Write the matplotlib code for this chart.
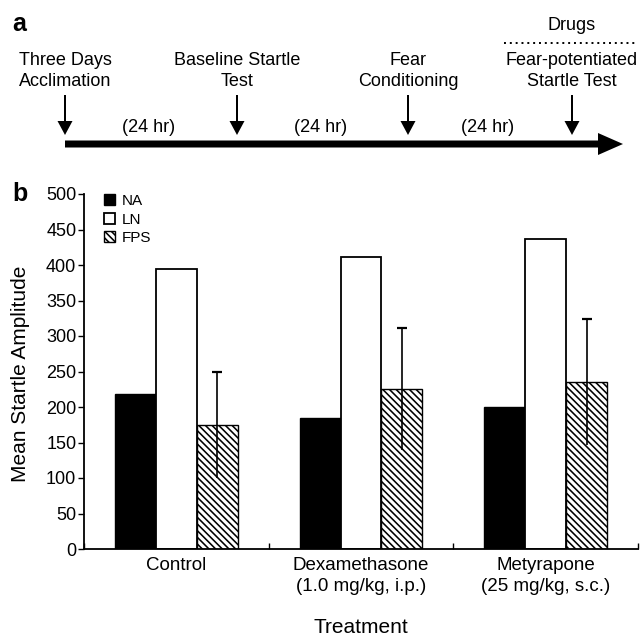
import matplotlib
matplotlib.use("Agg")
import matplotlib.pyplot as plt
import matplotlib.patches as mpatches
import numpy as np

plt.rcParams['font.family'] = ['Liberation Sans', 'DejaVu Sans']
plt.rcParams['hatch.linewidth'] = 1.15

# bar chart data (panel b)
treatments = ["Control", "Dexamethasone\n(1.0 mg/kg, i.p.)", "Metyrapone\n(25 mg/kg, s.c.)"]
na_values = [218, 184, 200]
ln_values = [395, 411, 436]
fps_values = [175, 225, 235]
fps_err = [75, 86, 89]
y_ticks = [0, 50, 100, 150, 200, 250, 300, 350, 400, 450, 500]

# timeline data (panel a), x positions in figure pixels
events = ["Three Days\nAcclimation", "Baseline Startle\nTest", "Fear\nConditioning",
          "Fear-potentiated\nStartle Test"]
event_x = [65, 237, 408, 572]
interval_label = "(24 hr)"

fig = plt.figure(figsize=(6.4, 6.37), dpi=100)

# overlay axes in pixel coordinates for the timeline and panel letters
over = fig.add_axes([0, 0, 1, 1])
over.set_xlim(0, 640)
over.set_ylim(637, 0)
over.axis("off")

over.text(12, 24, "a", fontsize=18, fontweight="bold", ha="left", va="center")
over.text(12, 194, "b", fontsize=18, fontweight="bold", ha="left", va="center")

#main time arrow
over.add_patch(mpatches.FancyArrow(65, 144, 558, 0, width=7, head_width=22, head_length=25,
                                   length_includes_head=True, color="black", lw=0))

for label, x in zip(events, event_x):
    over.text(x, 71, label, fontsize=13, ha="center", va="center", linespacing=1.25)
    over.add_patch(mpatches.FancyArrow(x, 95, 0, 40, width=2.0, head_width=15, head_length=14,
                                       length_includes_head=True, color="black", lw=0))

#interval labels between events
for x0, x1 in zip(event_x[:-1], event_x[1:]):
    over.text((x0 + x1) / 2 - 2, 127, interval_label, fontsize=13, ha="center", va="center")

#drug annotation over the last event
over.text(572, 26, "Drugs", fontsize=13, ha="center", va="center")
over.plot([504, 635], [43, 43], color="black", linestyle=(0, (1, 2)), linewidth=1.4)

# bar axes
ax = fig.add_axes([84 / 640, 1 - 549 / 637, (638 - 84) / 640, (549 - 194) / 637])
x = np.arange(len(treatments))
w = 0.222

ax.bar(x - w, na_values, w, color="black", edgecolor="black", linewidth=1.0, label="NA")
ax.bar(x, ln_values, w, color="white", edgecolor="black", linewidth=1.3, label="LN")
ax.bar(x + w, fps_values, w, color="white", edgecolor="black", linewidth=1.0,
       hatch="\\\\\\\\\\", label="FPS")

eb = ax.errorbar(x + w, fps_values, yerr=fps_err, fmt="none", ecolor="black",
                 elinewidth=1.2, capsize=3.5, capthick=1.6)
#only keep the upper cap
eb[1][0].set_visible(False)

ax.set_xlim(-0.5, 2.5)
ax.set_ylim(0, 500)
ax.set_yticks(y_ticks)

ax.set_xticks(np.arange(len(treatments) + 1) - 0.5)
ax.set_xticklabels([])
ax.tick_params(axis="x", which="major", direction="in", length=4, width=1.0)
ax.set_xticks(x, minor=True)
ax.set_xticklabels(treatments, minor=True, fontsize=13.5, linespacing=1.3)
ax.tick_params(axis="x", which="minor", length=0, pad=6)
ax.tick_params(axis="y", direction="out", length=4, width=1.0, labelsize=13, pad=1.5)

for side in ["top", "right"]:
    ax.spines[side].set_visible(False)
for side in ["left", "bottom"]:
    ax.spines[side].set_linewidth(1.3)

ax.set_ylabel("Mean Startle Amplitude", fontsize=15, va="center")
ax.yaxis.set_label_coords(-0.115, 0.493)
ax.set_xlabel("Treatment", fontsize=15, va="center")
ax.xaxis.set_label_coords(0.5, -0.2225)

ax.legend(loc="upper left", bbox_to_anchor=(0.037, 1.0), frameon=False, fontsize=11,
          handlelength=0.7, handleheight=0.7, handletextpad=0.45, labelspacing=0.3,
          borderpad=0, borderaxespad=0)

fig.savefig("out.png", dpi=100)
